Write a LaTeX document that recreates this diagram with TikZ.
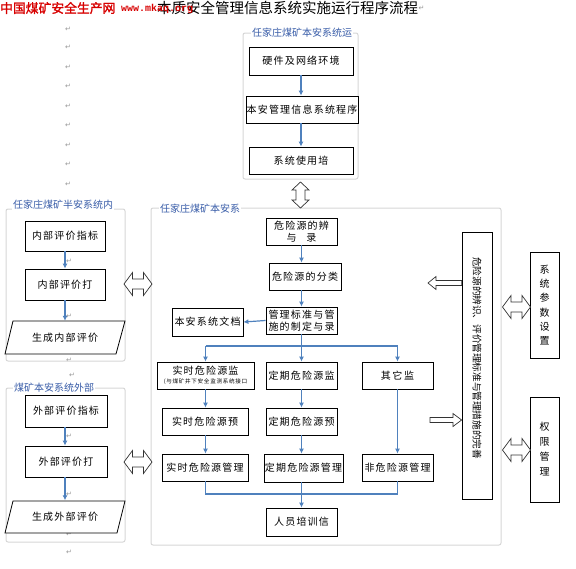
\documentclass[tikz,border=0pt]{standalone}
\usepackage{fontspec}
\setmainfont{Noto Sans CJK SC}
\newfontfamily\bxfont[LetterSpace=12]{Noto Sans CJK SC}
\newfontfamily\symfont{DejaVu Sans}
\newfontfamily\monofnt{Liberation Mono}
\newfontfamily\cjkbold[FakeBold=1.5]{Noto Sans CJK SC}
\usetikzlibrary{arrows.meta}
\definecolor{lblue}{RGB}{56,92,168}
\definecolor{abl}{RGB}{79,129,189}
\definecolor{gbd}{RGB}{214,214,214}
\definecolor{tred}{RGB}{215,0,0}
\definecolor{retc}{RGB}{150,150,150}
\tikzset{
  box/.style={draw=black, line width=0.8pt, fill=white, inner sep=0pt, align=center,
    font=\bxfont\fontsize{10}{12.5}\selectfont},
  grp/.style={draw=gbd, line width=1pt, rounded corners=2pt},
  glabel/.style={fill=white, text=lblue, inner sep=1pt, anchor=west,
    font=\fontsize{10}{12}\selectfont},
  flow/.style={draw=abl, line width=1.2pt, -{Latex[length=5pt,width=5pt]}},
  conn/.style={draw=abl, line width=1.2pt},
  hollow/.style={draw=black!80, line width=0.7pt, fill=white, line join=miter},
  retmark/.style={text=retc, font=\symfont\fontsize{7}{8}\selectfont, inner sep=0pt},
  para/.style={draw=black, line width=0.8pt, fill=white},
  ptext/.style={inner sep=0pt, minimum width=100pt, minimum height=33pt,
    font=\bxfont\fontsize{10}{12}\selectfont},
  hdbl/.pic={\draw[hollow] (-14,0) -- (-5.5,-11.5) -- (-5.5,-5) -- (5.5,-5) -- (5.5,-11.5) -- (14,0)
     -- (5.5,11.5) -- (5.5,5) -- (-5.5,5) -- (-5.5,11.5) -- cycle;},
  vdbl/.pic={\draw[hollow] (0,-13) -- (8.5,-5) -- (4.5,-5) -- (4.5,5) -- (8.5,5) -- (0,13)
     -- (-8.5,5) -- (-4.5,5) -- (-4.5,-5) -- (-8.5,-5) -- cycle;},
}
\begin{document}
\begin{tikzpicture}[x=1pt,y=-1pt]
\useasboundingbox (0,0) rectangle (576,568);

% ---------- title ----------
\node[anchor=west, inner sep=0pt, font=\fontsize{14.5}{16}\selectfont] (title) at (157,8) {本质安全管理信息系统实施运行程序流程};
\node[retmark, anchor=west] (rt) at (title.east) {↵};
\node[anchor=west, inner sep=0pt, text=tred, font=\cjkbold\fontsize{12.8}{14}\selectfont] (wm1) at (0,8) {中国煤矿安全生产网};
\node[anchor=west, inner sep=0pt, text=tred, font=\monofnt\bfseries\fontsize{10}{12}\selectfont] (wm2) at (121,9) {www.mkaq.org};

% ---------- return marks ----------
\foreach \yy [count=\i] in {29,47,67,86,106,125,145,164,184}
  \node[retmark] (r\i) at (68,\yy) {↵};
\node[retmark] (ra) at (69,261) {↵};
\node[retmark] (rb) at (69,316) {↵};
\node[retmark] (rc) at (69,360) {↵};
\node[retmark] (rd) at (72,375) {↵};
\node[retmark] (re) at (69,436) {↵};
\node[retmark] (rf) at (69,494) {↵};
\node[retmark] (rg) at (69,534) {↵};
\node[retmark] (rh) at (69,552) {↵};

% ---------- group frames ----------
\draw[grp] (243,33) rectangle (358,179);
\draw[grp] (6,209) rectangle (125,361);
\draw[grp] (6,388) rectangle (125,542);
\draw[grp] (151,208) rectangle (501,545);
\node[glabel] (gl1) at (251,33) {任家庄煤矿本安系统运};
\node[glabel] (gl2) at (12,205) {任家庄煤矿半安系统内};
\node[glabel] (gl3) at (13,388) {煤矿本安系统外部};
\node[glabel] (gl4) at (159,209) {任家庄煤矿本安系};

% ---------- top group ----------
\node[box, minimum width=104pt, minimum height=28pt] (hw) at (301,61) {硬件及网络环境};
\node[box, minimum width=112pt, minimum height=27pt] (prog) at (302,109.5) {本安管理信息系统程序};
\node[box, minimum width=104pt, minimum height=27pt] (use) at (301,160.5) {系统使用培};
\draw[flow] (hw.south) -- (hw.south |- prog.north);
\draw[flow] (hw.south |- prog.south) -- (hw.south |- use.north);
\pic at (300.5,195) {vdbl};

% ---------- left group 1 ----------
\node[box, minimum width=80pt, minimum height=30pt] (ni1) at (65,236) {内部评价指标};
\node[box, minimum width=80pt, minimum height=31pt] (ni2) at (65,284.5) {内部评价打};
\draw[para] (13,321) -- (125,321) -- (116,354) -- (5,354) -- cycle;
\node[ptext] (np) at (65,337.5) {生成内部评价};
\draw[flow] (ni1.south) -- (ni2.north);
\draw[flow] (ni2.south) -- (np.north);
\pic at (138,284) {hdbl};

% ---------- left group 2 ----------
\node[box, minimum width=82pt, minimum height=32pt] (no1) at (66,411) {外部评价指标};
\node[box, minimum width=82pt, minimum height=31pt] (no2) at (66,461.5) {外部评价打};
\draw[para] (13,501) -- (125,501) -- (117,533) -- (5,533) -- cycle;
\node[ptext] (op) at (65,517) {生成外部评价};
\draw[flow] (no1.south -| op.north) -- (no2.north -| op.north);
\draw[flow] (no2.south -| op.north) -- (op.north);
\pic at (138,462) {hdbl};

% ---------- main group ----------
\node[box, minimum width=71pt, minimum height=27pt] (d1) at (301.5,231.5) {危险源的辨\\与\quad 录};
\node[box, minimum width=72pt, minimum height=27pt] (d2) at (305,276.5) {危险源的分类};
\node[box, minimum width=71pt, minimum height=27pt] (d3) at (301.5,320.5) {管理标准与管\\施的制定与录};
\node[box, minimum width=71pt, minimum height=28pt] (doc) at (207.5,322) {本安系统文档};
\node[box, minimum width=97pt, minimum height=27pt] (m1) at (205.5,375.5)
  {实时危险源监\\[-3pt]{\fontsize{5.6}{6}\selectfont (与煤矿井下安全监测系统接口}};
\node[box, minimum width=71pt, minimum height=27pt] (m2) at (301.5,375.5) {定期危险源监};
\node[box, minimum width=71pt, minimum height=27pt] (m3) at (397.5,375.5) {其\,它\,监};
\node[box, minimum width=86pt, minimum height=27pt] (p1) at (205,421.5) {实时危险源预};
\node[box, minimum width=71pt, minimum height=27pt] (p2) at (301.5,421.5) {定期危险源预};
\node[box, minimum width=86pt, minimum height=27pt] (g1) at (205,467.5) {实时危险源管理};
\node[box, minimum width=79pt, minimum height=28pt] (g2) at (303.5,468) {定期危险源管理};
\node[box, minimum width=71pt, minimum height=27pt] (g3) at (397.5,467.5) {非危险源管理};
\node[box, minimum width=71pt, minimum height=28pt] (tr) at (301.5,522) {人员培训信};
\coordinate (br) at (301.5,346);
\coordinate (mg) at (301.5,494);

\draw[flow] (d1.south) -- (d1.south |- d2.north);
\draw[flow] (d1.south |- d2.south) -- (d3.north);
\draw[flow] (d3.west) -- (doc.east);
\draw[conn] (d3.south) -- (br);
\draw[conn] (br -| m1.north) -- (br -| m3.north);
\draw[flow] (br -| m1.north) -- (m1.north);
\draw[flow] (br) -- (m2.north);
\draw[flow] (br -| m3.north) -- (m3.north);
\draw[flow] (m1.south) -- (p1.north -| m1.south);
\draw[flow] (p1.south -| m1.south) -- (g1.north -| m1.south);
\draw[flow] (m2.south) -- (p2.north);
\draw[flow] (p2.south) -- (g2.north -| p2.south);
\draw[flow] (m3.south) -- (g3.north);
\draw[conn] (g1.south -| m1.south) -- (mg -| m1.south) -- (mg -| g3.south) -- (g3.south);
\draw[flow] (g2.south -| tr.north) -- (tr.north);

% ---------- long vertical box ----------
\node[box, minimum width=30pt, minimum height=267pt] (L) at (477,365.5) {};
\node[rotate=-90, inner sep=0pt, font=\fontsize{9.6}{11}\selectfont] (Ltxt) at (477,358)
  {危险源的辨识、评价管理标准与管理措施的完善};
\draw[hollow] (428,283) -- (436,276.5) -- (436,280.5) -- (L.west |- 0,280.5) -- (L.west |- 0,285.5)
  -- (436,285.5) -- (436,289.5) -- cycle;
\draw[hollow] (L.west |- 0,420) -- (453,413.5) -- (453,417.5) -- (430,417.5) -- (430,422.5)
  -- (453,422.5) -- (453,426.5) -- cycle;

% ---------- right boxes ----------
\node[box, minimum width=29pt, minimum height=106pt, font=\fontsize{10}{14.2}\selectfont] (s1) at (544.5,305) {系\\统\\参\\数\\设\\置};
\node[box, minimum width=29pt, minimum height=105pt, font=\fontsize{10}{15}\selectfont] (s2) at (544.5,449.5) {权\\限\\管\\理};
\pic at (516.5,307) {hdbl};
\pic at (516.5,450) {hdbl};
\end{tikzpicture}
\end{document}
